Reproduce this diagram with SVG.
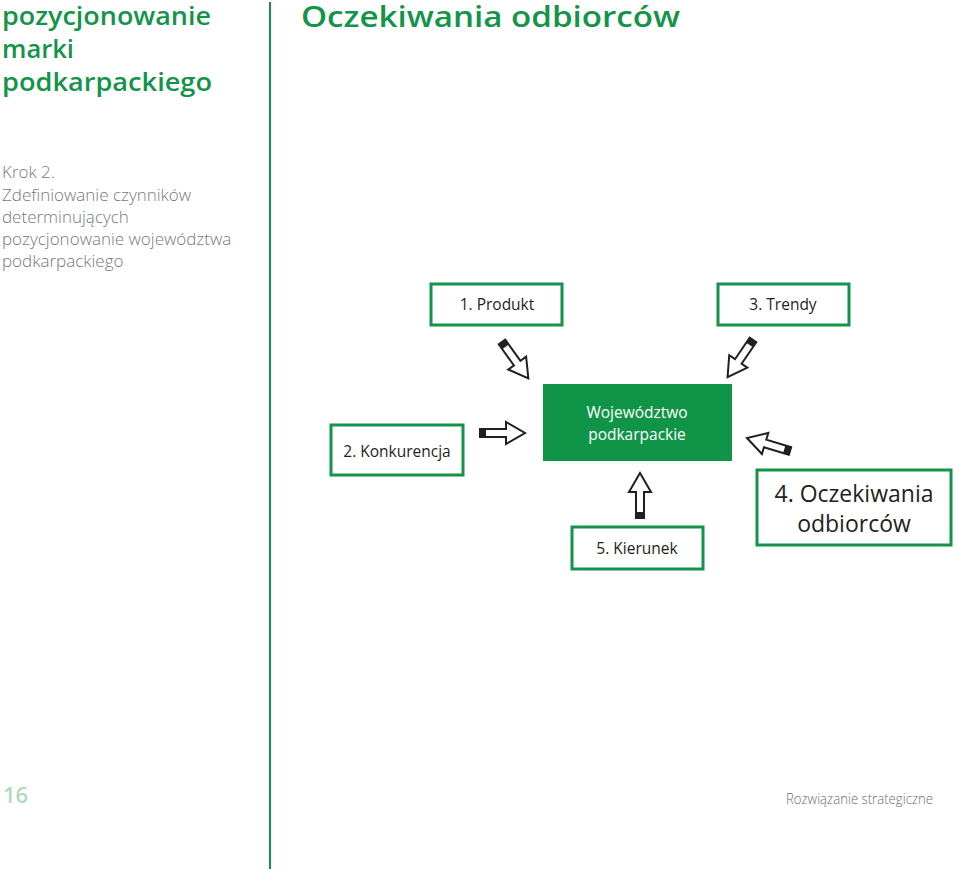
<svg xmlns="http://www.w3.org/2000/svg" width="959" height="869" viewBox="0 0 959 869">
<style>
.box{fill:#fff;stroke:#13944a;stroke-width:3}
.lbl{font-family:"Open Sans","Liberation Sans",sans-serif;font-size:15.5px;fill:#231f20;text-anchor:middle}
.big{font-size:23px}
.title{font-family:"Open Sans","Liberation Sans",sans-serif;font-weight:600;fill:#13944a}
.body{font-family:"Open Sans","Liberation Sans",sans-serif;font-weight:300;font-size:17px;fill:#77787b}
.arr{fill:#fff;stroke:#231f20;stroke-width:2;stroke-linejoin:miter}
</style>
<defs>
<g id="blockArrow">
<polygon class="arr" points="0,-4 26,-4 26,-11 45,0 26,11 26,4 0,4"/>
<rect x="0" y="-4" width="6" height="8" fill="#231f20"/>
</g>
</defs>
<rect width="959" height="869" fill="#fff"/>
<line x1="270" y1="2" x2="270" y2="869" stroke="#13944a" stroke-width="2"/>
<g id="header">
<text class="title" x="2" y="25" font-size="25.5" textLength="209" lengthAdjust="spacingAndGlyphs">pozycjonowanie</text>
<text class="title" x="2" y="58" font-size="25.5" textLength="72" lengthAdjust="spacingAndGlyphs">marki</text>
<text class="title" x="2" y="91" font-size="25.5" textLength="210" lengthAdjust="spacingAndGlyphs">podkarpackiego</text>
<text class="title" x="301" y="27" font-size="28" textLength="379" lengthAdjust="spacingAndGlyphs">Oczekiwania odbiorców</text>
</g>
<g id="intro">
<text class="body" x="2" y="178">Krok 2.</text>
<text class="body" x="2" y="201">Zdefiniowanie czynników</text>
<text class="body" x="2" y="223">determinujących</text>
<text class="body" x="2" y="245">pozycjonowanie województwa</text>
<text class="body" x="2" y="267">podkarpackiego</text>
</g>
<g id="connectors">
<use href="#blockArrow" transform="translate(502,342) rotate(54.2)"/>
<use href="#blockArrow" transform="translate(753,340) rotate(124.4)"/>
<use href="#blockArrow" transform="translate(480,433)"/>
<use href="#blockArrow" transform="translate(640,518) rotate(-90)"/>
<use href="#blockArrow" transform="translate(790,451) rotate(196.8)"/>
</g>
<g id="n1">
<rect class="box" x="431" y="284" width="131" height="41"/>
<text class="lbl" x="497" y="310">1. Produkt</text>
</g>
<g id="n3">
<rect class="box" x="718" y="284" width="131" height="41"/>
<text class="lbl" x="783" y="310">3. Trendy</text>
</g>
<g id="n2">
<rect class="box" x="331" y="425" width="132" height="50"/>
<text class="lbl" x="397" y="457">2. Konkurencja</text>
</g>
<g id="center">
<rect x="543" y="384" width="189" height="77" fill="#0f9448"/>
<text class="lbl" x="637" y="418" style="fill:#fff">Województwo</text>
<text class="lbl" x="637" y="440" style="fill:#fff">podkarpackie</text>
</g>
<g id="n5">
<rect class="box" x="572" y="527" width="131" height="42"/>
<text class="lbl" x="637" y="554">5. Kierunek</text>
</g>
<g id="n4">
<rect class="box" x="757" y="470" width="194" height="75"/>
<text class="lbl big" x="854" y="502">4. Oczekiwania</text>
<text class="lbl big" x="854" y="532">odbiorców</text>
</g>
<g id="footer">
<text x="3" y="803" font-family="'Open Sans','Liberation Sans',sans-serif" font-weight="600" font-size="22" fill="#b3d9bb">16</text>
<text x="933" y="804" text-anchor="end" font-family="'Open Sans','Liberation Sans',sans-serif" font-weight="300" font-size="14" fill="#6d6e71" textLength="147" lengthAdjust="spacingAndGlyphs">Rozwiązanie strategiczne</text>
</g>
</svg>
